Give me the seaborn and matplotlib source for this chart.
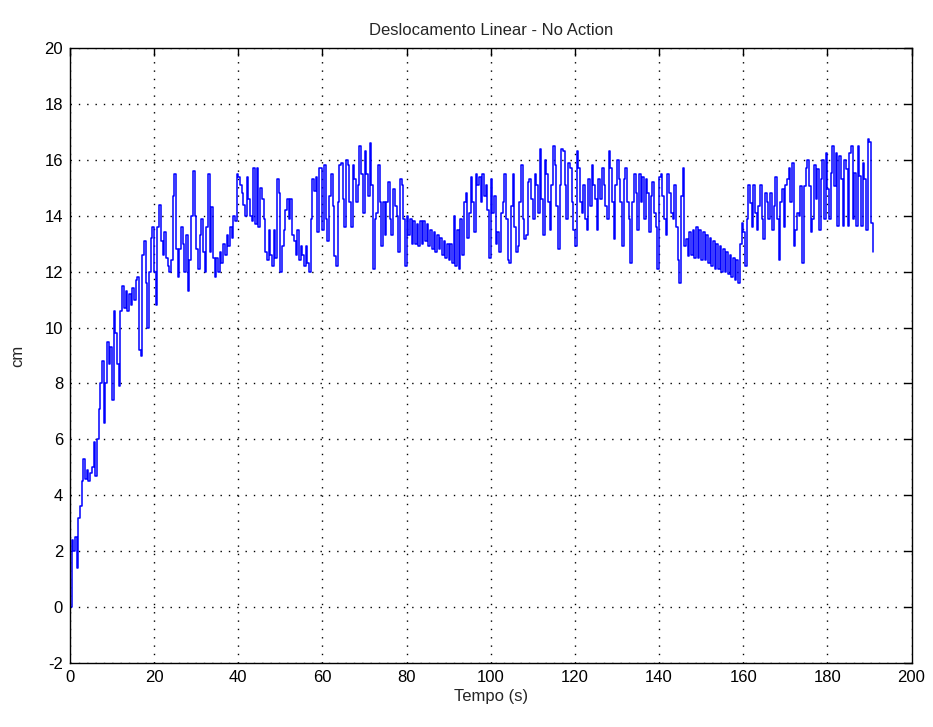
import numpy as np
import pandas as pd
import matplotlib
matplotlib.use("Agg")
import matplotlib.pyplot as plt
import seaborn as sns

# ---- data (cm vs time, 0.4 s sampling per segment) ----
SAMPLE_DT = 0.4
seg_starts = [0.0, 40.0, 60.0, 80.4, 135.2, 173.2]

seg_a = [0.0, 2.4, 2.0, 2.5, 1.4, 3.2, 3.6, 4.5, 5.3, 4.6, 4.9, 4.5, 4.8, 5.0, 5.9, 4.7,
         6.0, 7.1, 8.0, 8.8, 6.6, 8.0, 9.5, 8.7, 9.3, 7.4, 10.6, 9.8, 8.7, 7.9, 10.6, 11.5,
         10.7, 11.3, 10.6, 11.2, 10.8, 11.4, 11.0, 11.7, 11.8, 9.2, 9.0, 12.6, 13.1, 11.6,
         10.0, 12.0, 13.2, 13.6, 12.0, 10.8, 13.6, 14.4, 13.1, 12.6, 13.4, 12.5, 12.2, 12.0,
         12.4, 14.7, 15.5, 12.8, 11.8, 12.8, 13.6, 13.0, 12.0, 13.3, 11.3, 12.4, 14.0, 15.6,
         14.0, 12.8, 12.1, 13.3, 13.9, 12.7, 12.0, 13.6, 15.5, 12.7, 14.3, 12.5, 11.8, 12.5,
         12.0, 12.7, 12.3, 13.0, 12.6, 13.3, 12.9, 13.6, 13.2, 14.0, 13.8, 15.5]

seg_b = [15.4, 15.1, 14.8, 14.4, 14.0, 15.4, 14.6, 14.0, 13.8, 15.7, 13.7, 15.7, 13.6,
         15.0, 14.6, 13.9, 12.7, 12.4, 13.5, 12.6, 12.2, 13.5, 12.5, 15.3, 14.8, 12.0,
         12.9, 13.5, 14.2, 14.6, 13.9, 14.6, 13.3, 13.1, 12.6, 13.5, 12.4, 12.9, 12.6,
         12.2, 12.9, 12.3, 12.0, 13.9, 15.3, 14.9, 15.4, 13.4, 15.7]

seg_c = [13.5, 15.8, 13.9, 13.1, 14.7, 15.5, 14.35, 12.55, 12.2, 14.5, 15.8, 15.9, 14.6,
         13.6, 16.0, 15.8, 14.5, 13.6, 15.8, 15.3, 14.5, 15.1, 16.5, 15.5, 14.1, 16.3,
         15.5, 14.7, 16.6, 15.1, 12.1, 13.9, 14.1, 15.8, 14.5, 12.9, 14.5, 13.3, 14.5,
         15.2, 13.9, 13.3, 14.95, 14.35, 14.0, 12.7, 15.3, 15.1, 13.9, 12.2, 14.0]

seg_d = [13.3, 13.9, 13.0, 13.8, 13.0, 13.7, 12.9, 13.8, 13.0, 13.8, 13.1, 13.7, 12.9,
         13.5, 12.8, 13.4, 12.7, 13.3, 12.8, 13.2, 12.6, 13.1, 12.5, 13.0, 12.4, 13.0,
         12.3, 14.0, 12.2, 13.5, 12.1,
         13.9, 12.6, 14.5, 14.8, 13.2, 14.1, 15.4, 14.5, 13.4, 15.5, 15.1,
         15.4, 14.5, 15.5, 14.7, 15.1, 14.2, 12.5, 15.3, 14.1, 14.7,
         13.0, 13.4, 12.7, 14.1, 14.5, 15.5, 13.9, 12.4, 12.3, 14.35,
         15.5, 13.6, 12.7, 12.9, 14.5, 15.8, 13.9, 13.15, 13.3, 15.2,
         15.3, 14.6, 13.9, 15.5, 15.1, 14.1, 16.4, 14.6, 13.3, 16.0,
         15.5, 14.5, 13.5, 15.1, 16.5, 15.8, 14.35, 12.8, 15.1, 16.4,
         16.3, 15.1, 13.9, 15.9, 15.7, 14.5, 13.5, 12.9, 16.3, 15.7,
         14.5, 14.1, 15.1, 13.9, 13.5, 15.3, 14.35, 15.8, 15.1, 14.6,
         13.5, 15.3, 14.6, 15.7, 15.1, 14.35, 13.9, 16.3, 15.7, 14.5,
         13.15, 15.1, 16.0, 15.3, 14.5, 12.9, 15.3, 15.7, 14.5, 13.9,
         12.3, 14.5, 15.5, 14.8, 13.5]

seg_e = [15.5, 14.5, 15.4, 13.9, 15.3, 14.8, 13.4, 14.7, 15.2, 14.1, 13.6, 12.1, 15.4,
         15.5, 14.7, 13.9, 13.3, 15.5, 14.8, 14.1, 13.9, 15.1, 13.6, 12.4, 11.6, 14.7,
         15.7, 12.9, 13.15, 12.55, 13.4,
         12.6, 13.5, 12.5, 13.6, 12.5, 13.5, 12.4, 13.4, 12.4, 13.3, 12.3, 13.2, 12.2,
         13.1, 12.1, 13.0, 12.1, 12.9, 12.0, 12.8, 12.0, 12.7, 11.9, 12.6, 11.8, 12.5,
         11.7, 12.4, 11.6,
         13.0, 13.75, 13.4, 12.2, 13.9, 15.1, 14.47, 13.6, 15.1, 14.1, 13.5, 14.35, 15.1,
         13.9, 13.15, 14.8, 14.5, 13.9, 14.8, 13.5, 14.35, 15.4, 13.9, 12.4, 14.5, 14.95,
         13.6, 15.1, 15.3, 15.7, 14.5, 15.9, 12.9, 13.5, 14.1]

seg_f = [14.0, 15.07, 12.3, 15.07, 15.7, 16.0, 15.07, 13.4, 13.9, 15.8, 14.6, 15.66, 13.5,
         15.3, 16.0, 13.9, 16.26, 14.95, 13.9, 15.54, 16.5, 15.07, 16.26, 13.63, 16.14,
         15.3, 13.63, 16.0, 15.66, 13.63, 16.26, 16.5, 13.87, 15.54, 13.63, 16.5, 15.43,
         13.63, 15.9, 15.3, 13.5, 16.74, 16.62, 13.75, 12.7]

x_ticks = list(range(0, 201, 20))
y_ticks = list(range(-2, 21, 2))
title = "Deslocamento Linear - No Action"
x_label = "Tempo (s)"
y_label = "cm"

# ---- build table ----
segments = [seg_a, seg_b, seg_c, seg_d, seg_e, seg_f]
times, vals = [], []
for start, seg in zip(seg_starts, segments):
    times.extend(start + SAMPLE_DT * np.arange(len(seg)))
    vals.extend(seg)
df = pd.DataFrame({"t": times, "cm": vals})

# ---- plot ----
sns.set_style("white")
plt.rcParams["font.family"] = ["Liberation Sans Narrow", "Liberation Sans", "DejaVu Sans"]
plt.rcParams["axes.unicode_minus"] = False

fig = plt.figure(figsize=(9.33, 7.27), dpi=100)
ax = fig.add_axes([0.075, 0.088, 0.902, 0.846])
sns.lineplot(data=df, x="t", y="cm", ax=ax, color="#0000ff", lw=1.1,
             estimator=None, sort=False, drawstyle="steps-post")

ax.set_xlim(0, 200)
ax.set_ylim(-2, 20)
ax.set_xticks(x_ticks)
ax.set_yticks(y_ticks)
ax.grid(True, color="black", linestyle=(0, (1, 5)), lw=1.0)
ax.tick_params(direction="in", top=True, right=True, length=6, width=1,
               labelsize=12, pad=5, colors="black")
for s in ax.spines.values():
    s.set_color("black")
    s.set_linewidth(1.0)

ax.set_title(title, fontsize=12, pad=9)
ax.set_xlabel(x_label, fontsize=12, labelpad=3)
ax.set_ylabel(y_label, fontsize=12, labelpad=14)

fig.savefig("out.png", dpi=100, facecolor="white")
